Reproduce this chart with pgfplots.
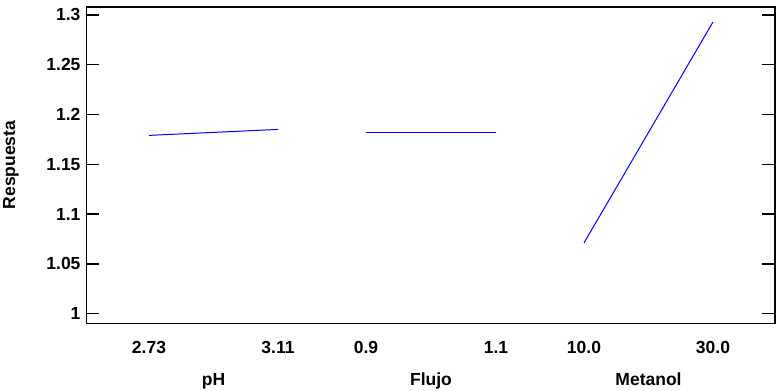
\documentclass[border=0pt]{standalone}
\usepackage{fontspec}
\setmainfont{Liberation Sans}
\usepackage{pgfplots}
\pgfplotsset{compat=1.18}
\begin{document}
\begin{tikzpicture}[x=1bp,y=1bp]
\useasboundingbox (0,0) rectangle (780,390);
\begin{axis}[
  at={(86bp,67bp)}, anchor=south west,
  width=689bp, height=316bp, scale only axis,
  xmin=86, xmax=775, ymin=0.9905, ymax=1.308,
  clip=false,
  axis line style={line width=1bp, black},
  xtick={149,278,366,496,584,713},
  xticklabels={2.73,3.11,0.9,1.1,10.0,30.0},
  xtick style={draw=none},
  xticklabel style={anchor=base, yshift=-30bp},
  ytick={1,1.05,1.1,1.15,1.2,1.25,1.3},
  yticklabels={1,1.05,1.1,1.15,1.2,1.25,1.3},
  ytick pos=both, yticklabel pos=left,
  tick align=inside, major tick length=13bp,
  ytick style={line width=1.5bp, black},
  yticklabel style={anchor=east, xshift=-2bp},
  tick label style={font=\fontsize{17.5bp}{20bp}\selectfont\bfseries},
  /pgf/number format/assume math mode=true,
  ylabel={Respuesta},
  ylabel style={font=\fontsize{17.5bp}{20bp}\selectfont\bfseries, at={(axis description cs:0,0.5)}, anchor=center, yshift=75bp},
]
\addplot[blue, line width=1bp] coordinates {(149,1.179) (278,1.185)};
\addplot[blue, line width=1bp] coordinates {(366,1.1824) (496,1.1824)};
\addplot[blue, line width=1bp] coordinates {(584,1.071) (713,1.293)};
\draw[line width=2.2bp] (axis description cs:0,1) -- (axis description cs:1,1) -- (axis description cs:1,0);
\node[anchor=base, font=\fontsize{17.5bp}{20bp}\selectfont\bfseries] at (axis cs:213.5,0.9905) [yshift=-62bp] {pH};
\node[anchor=base, font=\fontsize{17.5bp}{20bp}\selectfont\bfseries] at (axis cs:431,0.9905) [yshift=-62bp] {Flujo};
\node[anchor=base, font=\fontsize{17.5bp}{20bp}\selectfont\bfseries] at (axis cs:648.5,0.9905) [yshift=-62bp] {Metanol};
\end{axis}
\end{tikzpicture}
\end{document}
